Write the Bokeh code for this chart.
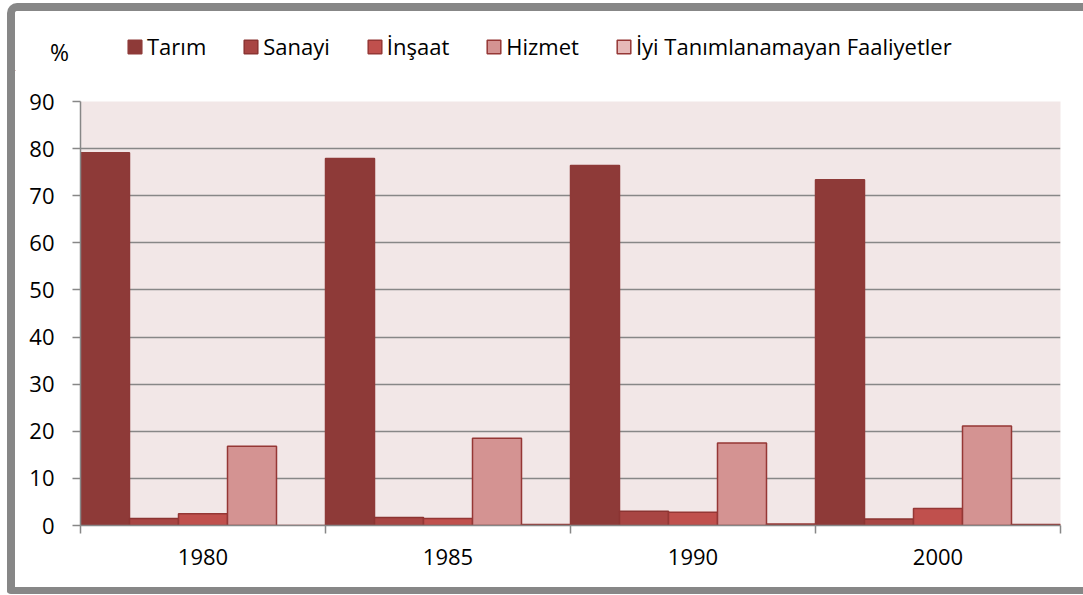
from bokeh.plotting import figure
from bokeh.models import ColumnDataSource, Legend, LegendItem, FixedTicker, Label, Range1d
from bokeh.layouts import column
from bokeh.embed import file_html
from bokeh.resources import INLINE

years = ["1980", "1985", "1990", "2000"]
series_names = ["Tarım", "Sanayi", "İnşaat", "Hizmet", "İyi Tanımlanamayan Faaliyetler"]
tarim = [79.1, 77.9, 76.4, 73.4]
sanayi = [1.5, 1.7, 3.0, 1.4]
insaat = [2.5, 1.5, 2.8, 3.6]
hizmet = [16.8, 18.5, 17.5, 21.1]
iyi = [0.0, 0.2, 0.3, 0.2]
y_ticks = [0, 10, 20, 30, 40, 50, 60, 70, 80, 90]

series = [tarim, sanayi, insaat, hizmet, iyi]
fills = ["#8E3A38", "#A84543", "#C0504D", "#D49392", "#E6B9B8"]
lines = ["#8E3A38", "#8B3432", "#953735", "#953735", "#953735"]

FONT = "Open Sans"
W = 1068

# ---- main chart ----
p = figure(width=W, height=516, output_backend="svg", toolbar_location=None,
           x_range=Range1d(0, len(years)), y_range=Range1d(0, 90),
           min_border_left=65, min_border_right=23, min_border_top=30, min_border_bottom=62)
p.background_fill_color = "#F2E7E7"
p.border_fill_color = "white"
p.outline_line_color = None

nser = len(series)
bw = 1.0 / nser
for k, vals in enumerate(series):
    xs = [i + bw * (k + 0.5) for i in range(len(years))]
    src = ColumnDataSource(dict(x=xs, top=vals))
    p.vbar(x="x", top="top", bottom=0, width=bw, source=src,
           fill_color=fills[k], line_color=lines[k], line_width=1.5)

p.xaxis.ticker = FixedTicker(ticks=[i + 0.5 for i in range(len(years))],
                             minor_ticks=list(range(len(years) + 1)))
p.xaxis.major_label_overrides = {i + 0.5: y for i, y in enumerate(years)}
p.xaxis.major_tick_line_color = None
p.xaxis.minor_tick_in = 0
p.xaxis.minor_tick_out = 8
p.xaxis.minor_tick_line_color = "#878787"
p.xaxis.minor_tick_line_width = 1.5
p.xaxis.axis_line_color = "#878787"
p.xaxis.axis_line_width = 1.5
p.xaxis.major_label_text_font = FONT
p.xaxis.major_label_text_font_size = "22px"
p.xaxis.major_label_text_color = "black"
p.xaxis.major_label_standoff = 15

p.yaxis.ticker = FixedTicker(ticks=y_ticks)
p.yaxis.major_tick_in = 0
p.yaxis.major_tick_out = 8
p.yaxis.minor_tick_line_color = None
p.yaxis.major_tick_line_color = "#878787"
p.yaxis.major_tick_line_width = 1.5
p.yaxis.axis_line_color = "#878787"
p.yaxis.axis_line_width = 1.5
p.yaxis.major_label_text_font = FONT
p.yaxis.major_label_text_font_size = "22px"
p.yaxis.major_label_text_color = "black"
p.yaxis.major_label_standoff = 18

p.xgrid.grid_line_color = None
p.ygrid.ticker = FixedTicker(ticks=y_ticks)
p.ygrid.grid_line_color = "#878787"
p.ygrid.grid_line_width = 1.5

# ---- legend strip ----
top = figure(width=W, height=60, output_backend="svg", toolbar_location=None,
             x_range=Range1d(0, W), y_range=Range1d(0, 60),
             x_axis_type=None, y_axis_type=None,
             min_border=0, min_border_left=0, min_border_right=0,
             min_border_top=0, min_border_bottom=0)
top.frame_align = False
top.outline_line_color = None
top.background_fill_color = "white"
top.border_fill_color = "white"
top.grid.visible = False

# legend swatches (drawn off-screen; only their legend glyphs are shown)
leg_renderers = []
for k in range(nser):
    r = top.vbar(x=[-1000], top=[0], width=1, fill_color=fills[k],
                 line_color=lines[k], line_width=1.5)
    leg_renderers.append(r)

legend = Legend(items=[LegendItem(label=n, renderers=[r]) for n, r in zip(series_names, leg_renderers)],
                orientation="horizontal", location=(111, 10),
                glyph_width=17, glyph_height=17, label_standoff=4, spacing=36,
                padding=0, margin=0, border_line_color=None, background_fill_alpha=0,
                label_text_font=FONT, label_text_font_size="22px", label_text_color="black")
top.add_layout(legend, "center")

top.add_layout(Label(x=44, y=20, text="%", text_align="center", text_baseline="middle",
                     text_font=FONT, text_font_size="23px", text_color="black"))

layout = column(top, p, spacing=0)
layout.styles = {"margin-left": "7px", "margin-top": "3px",
                 "border-left": "8px solid #878787", "border-top": "8px solid #878787",
                 "border-bottom": "7px solid #878787", "border-top-left-radius": "10px",
                 "border-bottom-left-radius": "4px"}

open("out.html", "w").write(file_html(layout, INLINE))
